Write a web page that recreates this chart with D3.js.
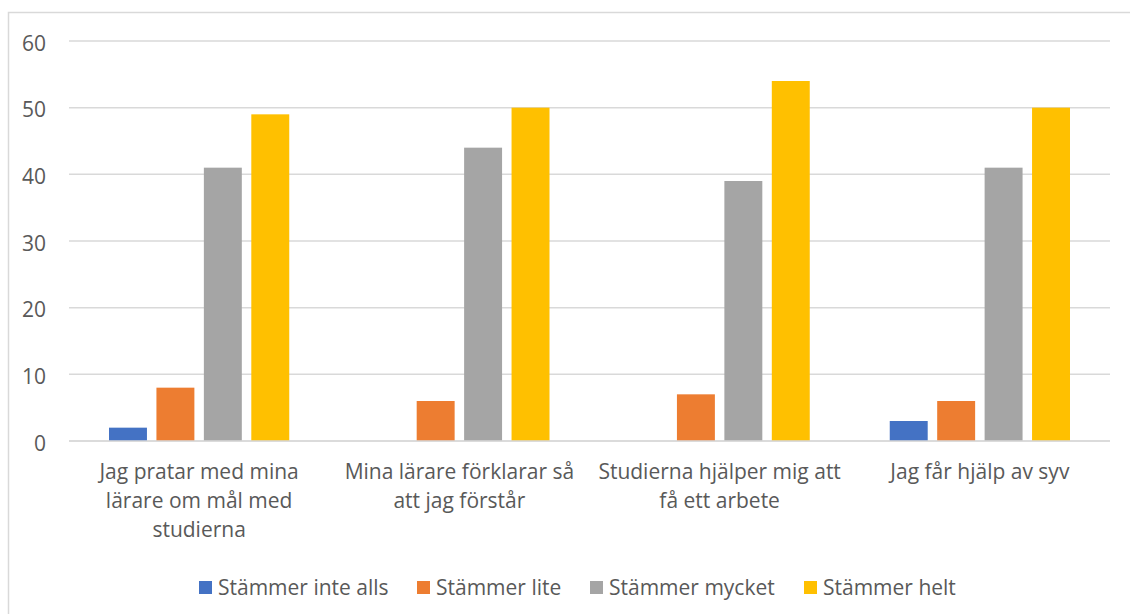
<!DOCTYPE html>
<html>
<head>
<meta charset="utf-8">
<script src="https://cdn.jsdelivr.net/npm/d3@7"></script>
<style>
  body { margin: 0; background: #fff; }
  text { font-family: "Open Sans", Lato, sans-serif; fill: #595959; }
</style>
</head>
<body>
<svg id="chart" width="1130" height="614"></svg>
<script>
const categories = [
    ['Jag pratar med mina', 'lärare om mål med', 'studierna'],
    ['Mina lärare förklarar så', 'att jag förstår'],
    ['Studierna hjälper mig att', 'få ett arbete'],
    ['Jag får hjälp av syv']
];
const seriesNames = ['Stämmer inte alls', 'Stämmer lite', 'Stämmer mycket', 'Stämmer helt'];
const colors = ['#4472c4', '#ed7d31', '#a5a5a5', '#ffc000'];
const inteAlls = [2, 0, 0, 3];
const lite = [8, 6, 7, 6];
const mycket = [41, 44, 39, 41];
const helt = [49, 50, 54, 50];
const yTicks = [0, 10, 20, 30, 40, 50, 60];

const values = [inteAlls, lite, mycket, helt];

const svg = d3.select('#chart');

// chart border
svg.append('rect')
    .attr('x', 8.5)
    .attr('y', 12.5)
    .attr('width', 1140)
    .attr('height', 620)
    .attr('fill', 'none')
    .attr('stroke', '#d9d9d9')
    .attr('stroke-width', 1.5);

const plotLeft = 69, plotRight = 1110, plotTop = 41, plotBottom = 441;

let y = d3.scaleLinear().domain([0, 60]).range([plotBottom, plotTop]);
let x0 = d3.scaleBand().domain(d3.range(categories.length)).range([plotLeft, plotRight]);
let x1 = d3.scaleBand().domain(d3.range(seriesNames.length))
    .range([40, x0.bandwidth() - 40])
    .paddingInner(0.2);

// gridlines
svg.append('g')
    .selectAll('line')
    .data(yTicks)
    .enter()
    .append('line')
    .attr('x1', plotLeft)
    .attr('x2', plotRight)
    .attr('y1', (d) => y(d))
    .attr('y2', (d) => y(d))
    .attr('stroke', '#d9d9d9')
    .attr('stroke-width', 1.5);

// y labels
svg.append('g')
    .selectAll('text')
    .data(yTicks)
    .enter()
    .append('text')
    .attr('x', 46)
    .attr('y', (d) => y(d) + 4)
    .attr('text-anchor', 'end')
    .attr('dominant-baseline', 'middle')
    .style('font-size', '21px')
    .text((d) => d);

// bars
let groups = svg.append('g')
    .selectAll('g')
    .data(categories)
    .enter()
    .append('g')
    .attr('transform', (d, i) => `translate(${x0(i)},0)`);

groups.selectAll('rect')
    .data((d, i) => values.map((s, k) => ({ k: k, v: s[i] })))
    .enter()
    .append('rect')
    .attr('x', (d) => x1(d.k))
    .attr('width', x1.bandwidth())
    .attr('y', (d) => y(d.v))
    .attr('height', (d) => y(0) - y(d.v))
    .attr('fill', (d) => colors[d.k]);

// axis line on top of bars
svg.append('line')
    .attr('x1', plotLeft)
    .attr('x2', plotRight)
    .attr('y1', y(0))
    .attr('y2', y(0))
    .attr('stroke', '#d9d9d9')
    .attr('stroke-width', 1.5);

// category labels
groups.append('text')
    .attr('text-anchor', 'middle')
    .style('font-size', '21px')
    .selectAll('tspan')
    .data((d) => d)
    .enter()
    .append('tspan')
    .attr('x', x0.bandwidth() / 2)
    .attr('y', (d, i) => 479 + i * 29)
    .text((d) => d);

// legend
const legendX = [199, 417, 590, 804];
let legend = svg.append('g')
    .selectAll('g')
    .data(seriesNames)
    .enter()
    .append('g')
    .attr('transform', (d, i) => `translate(${legendX[i]}, 581)`);

legend.append('rect')
    .attr('width', 13)
    .attr('height', 13)
    .attr('fill', (d, i) => colors[i]);

legend.append('text')
    .attr('x', 19)
    .attr('y', 14)
    .style('font-size', '21px')
    .text((d) => d);
</script>
</body>
</html>
